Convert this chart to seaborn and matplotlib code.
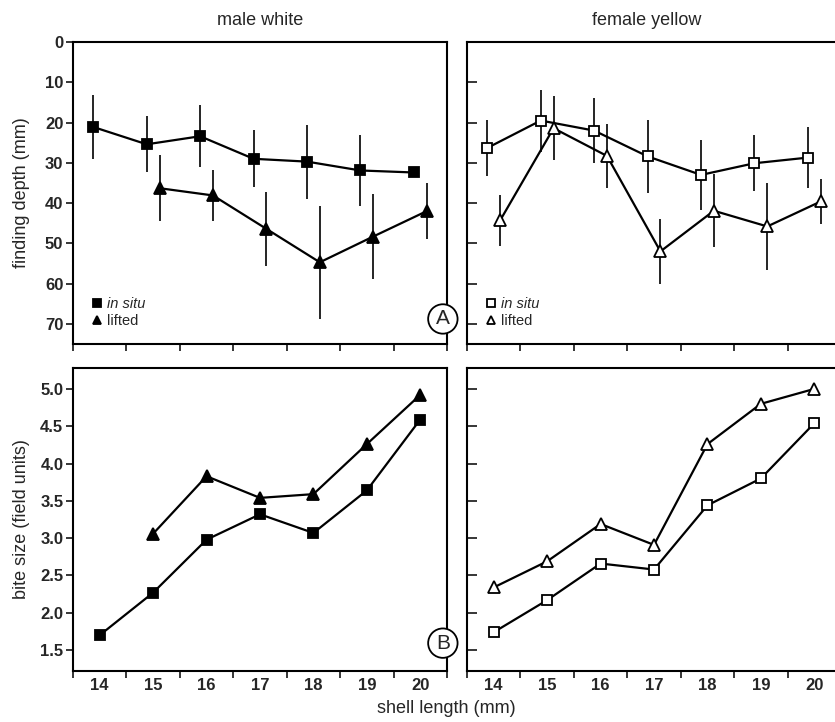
import numpy as np
import pandas as pd
import seaborn as sns
import matplotlib
import matplotlib.pyplot as plt
from matplotlib.ticker import FixedLocator, NullFormatter, FormatStrFormatter
matplotlib.use('Agg')

sns.set_style('ticks')
plt.rcParams['font.family'] = ['Liberation Sans', 'DejaVu Sans']

# shell length classes (mm)
shell = [14, 15, 16, 17, 18, 19, 20]

# A: finding depth (mm), mean and half error bar
male_situ_depth = [21.1, 25.4, 23.4, 29.0, 29.7, 31.9, 32.4]
male_situ_err = [8.0, 7.0, 7.7, 7.1, 9.2, 8.9, np.nan]
male_lift_shell = [15, 16, 17, 18, 19, 20]
male_lift_depth = [36.3, 38.1, 46.4, 54.7, 48.3, 42.0]
male_lift_err = [8.2, 6.3, 9.2, 14.0, 10.6, 7.0]

fem_situ_depth = [26.3, 19.5, 22.0, 28.4, 33.0, 30.1, 28.7]
fem_situ_err = [7.0, 7.7, 8.0, 9.1, 8.7, 7.0, 7.5]
fem_lift_depth = [44.3, 21.4, 28.3, 52.0, 41.9, 45.8, 39.6]
fem_lift_err = [6.3, 8.0, 8.0, 8.0, 9.1, 10.7, 5.7]

# B: bite size (field units)
male_situ_bite = [1.70, 2.27, 2.98, 3.32, 3.07, 3.64, 4.59]
male_lift_bite = [3.06, 3.83, 3.54, 3.59, 4.26, 4.92]
fem_situ_bite = [1.74, 2.17, 2.66, 2.58, 3.44, 3.80, 4.54]
fem_lift_bite = [2.34, 2.69, 3.19, 2.91, 4.26, 4.80, 5.00]

depth_ticks = [0, 10, 20, 30, 40, 50, 60, 70]
bite_ticks = [1.5, 2.0, 2.5, 3.0, 3.5, 4.0, 4.5, 5.0]


def series(ax, x, y, marker, filled, size, err=None, label=None):
    df = pd.DataFrame({'x': x, 'y': y})
    face = 'black' if filled else 'white'
    if err is not None:
        ax.errorbar(df['x'], df['y'], yerr=err, fmt='none', ecolor='black',
                    elinewidth=1.2, capsize=0, zorder=2)
    sns.lineplot(data=df, x='x', y='y', ax=ax, color='black', lw=1.6,
                 marker=marker, markersize=size, markerfacecolor=face,
                 markeredgecolor='black', markeredgewidth=1.3,
                 errorbar=None, label=label, zorder=3)


def style_axes(ax, left):
    for s in ax.spines.values():
        s.set_linewidth(1.5)
        s.set_color('black')
    ax.set_xlim(13.5, 20.5)
    ax.xaxis.set_major_locator(FixedLocator(shell))
    ax.xaxis.set_minor_locator(FixedLocator(np.arange(13.5, 21, 1.0)))
    ax.tick_params(axis='x', which='major', length=0, labelsize=12, pad=5)
    ax.tick_params(axis='x', which='minor', length=5, width=1.3, direction='out')
    if left:
        ax.tick_params(axis='y', length=5, width=1.3, direction='out',
                       labelsize=12, pad=2)
    else:
        ax.tick_params(axis='y', length=7, width=1.3, direction='in',
                       labelleft=False)
    for t in ax.get_xticklabels() + ax.get_yticklabels():
        t.set_fontweight('bold')
    ax.set_xlabel('')
    ax.set_ylabel('')


fig = plt.figure(figsize=(8.35, 7.22), dpi=100)
ax_a1 = fig.add_axes([0.0874, 0.5235, 0.4479, 0.4183])
ax_a2 = fig.add_axes([0.5593, 0.5235, 0.4479, 0.4183])
ax_b1 = fig.add_axes([0.0874, 0.0706, 0.4479, 0.4197])
ax_b2 = fig.add_axes([0.5593, 0.0706, 0.4479, 0.4197])

dodge = 0.12
series(ax_a1, np.array(shell) - dodge, male_situ_depth, 's', True, 7.5, male_situ_err, 'in situ')
series(ax_a1, np.array(male_lift_shell) + dodge, male_lift_depth, '^', True, 8.5, male_lift_err, 'lifted')
series(ax_a2, np.array(shell) - dodge, fem_situ_depth, 's', False, 7.5, fem_situ_err, 'in situ')
series(ax_a2, np.array(shell) + dodge, fem_lift_depth, '^', False, 8.5, fem_lift_err, 'lifted')

series(ax_b1, shell, male_situ_bite, 's', True, 7)
series(ax_b1, male_lift_shell, male_lift_bite, '^', True, 8.5)
series(ax_b2, shell, fem_situ_bite, 's', False, 7)
series(ax_b2, shell, fem_lift_bite, '^', False, 8.5)

for ax, left in [(ax_a1, True), (ax_a2, False)]:
    ax.set_ylim(75, 0)
    ax.set_yticks(depth_ticks)
    style_axes(ax, left)
    ax.xaxis.set_major_formatter(NullFormatter())
    leg = ax.legend(loc='lower left', bbox_to_anchor=(0.045, 0.03), frameon=False,
                    handlelength=0, handletextpad=0.7, labelspacing=0.2,
                    borderpad=0, fontsize=10.5, markerscale=0.75)
    leg.get_texts()[0].set_fontstyle('italic')

for ax, left in [(ax_b1, True), (ax_b2, False)]:
    ax.set_ylim(1.22, 5.28)
    ax.set_yticks(bite_ticks)
    ax.yaxis.set_major_formatter(FormatStrFormatter('%.1f'))
    style_axes(ax, left)

# panel letters sitting on the right spine of the left panels
for ax, letter, y in [(ax_a1, 'A', 0.083), (ax_b1, 'B', 0.092)]:
    ax.text(0.989, y, letter, transform=ax.transAxes, ha='center', va='center',
            fontsize=15, clip_on=False, zorder=10,
            bbox=dict(boxstyle='circle,pad=0.25', fc='white', ec='black', lw=1.3))

fig.text(0.311, 0.972, 'male white', ha='center', va='center', fontsize=13)
fig.text(0.775, 0.972, 'female yellow', ha='center', va='center', fontsize=13)
fig.text(0.026, 0.733, 'finding depth (mm)', rotation=90, ha='center', va='center', fontsize=13)
fig.text(0.026, 0.281, 'bite size (field units)', rotation=90, ha='center', va='center', fontsize=13)
fig.text(0.535, 0.019, 'shell length (mm)', ha='center', va='center', fontsize=13)

fig.savefig('out.png', dpi=100)
plt.close()
